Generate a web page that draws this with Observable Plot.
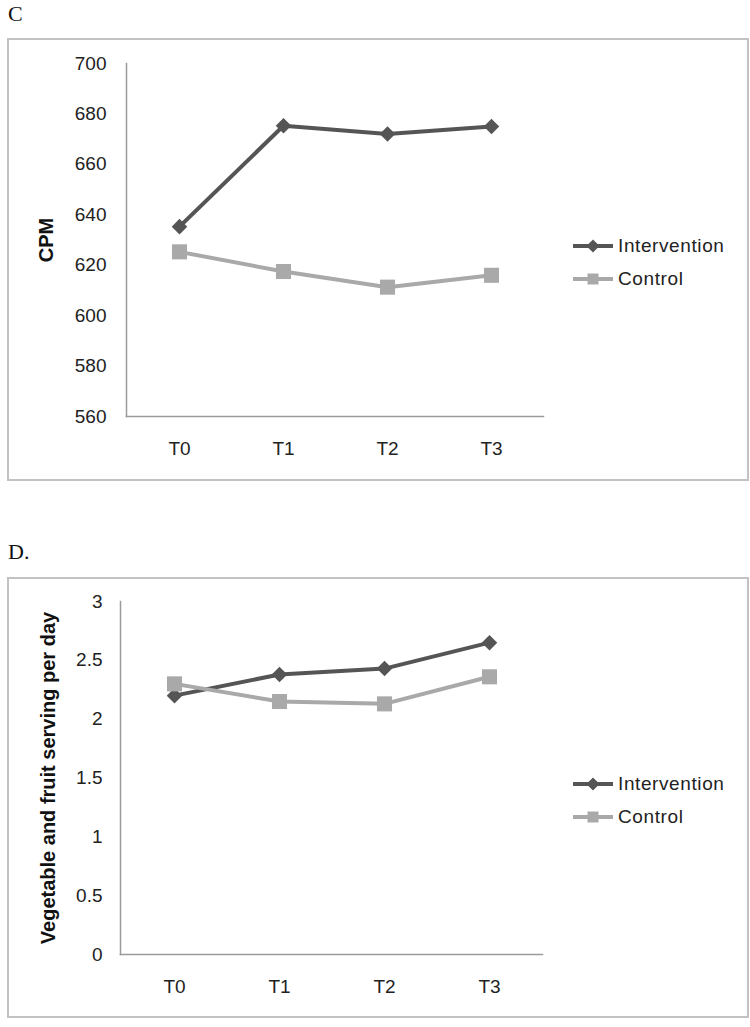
<!DOCTYPE html>
<html>
<head>
<meta charset="utf-8">
<script src="https://cdn.jsdelivr.net/npm/d3@7"></script>
<script src="https://cdn.jsdelivr.net/npm/@observablehq/plot@0.6"></script>
<style>
  html, body { margin: 0; padding: 0; background: #fff; }
  body { position: relative; width: 750px; height: 1027px; overflow: hidden; font-family: "Liberation Sans", Arial, sans-serif; }
  .plabel { position: absolute; left: 8px; font-family: "Liberation Serif", "Times New Roman", serif; font-size: 22px; color: #111; line-height: 1; }
  .box { position: absolute; left: 7px; width: 742px; border: 2px solid #c2c2c2; box-sizing: border-box; pointer-events: none; }
  .chart { position: absolute; left: 0; }
  .legend { position: absolute; left: 572px; }
  .legend .row { display: flex; align-items: center; height: 33px; }
  .legend .row span { font-size: 19px; color: #222; letter-spacing: 0.6px; }
</style>
</head>
<body>
<div id="root"></div>
<script>
// ---- data ----
const categories = ["T0", "T1", "T2", "T3"];
const seriesNames = ["Intervention", "Control"];
const seriesColors = ["#555555", "#a9a9a9"];
const seriesSymbols = ["diamond2", "square"];

const cpmIntervention = [635.3, 675.3, 672, 675];
const cpmControl = [625.3, 617.5, 611.3, 616];
const cpmTicks = [560, 580, 600, 620, 640, 660, 680, 700];

const vegIntervention = [2.2, 2.38, 2.43, 2.65];
const vegControl = [2.3, 2.15, 2.13, 2.36];
const vegTicks = [0, 0.5, 1, 1.5, 2, 2.5, 3];

const panelLabels = ["C", "D."];
const yTitles = ["CPM", "Vegetable and fruit serving per day"];

// ---- helpers ----
function toRows(seriesValues) {
  const rows = [];
  seriesValues.forEach((vals, si) => {
    vals.forEach((v, i) => rows.push({series: seriesNames[si], cat: categories[i], value: v}));
  });
  return rows;
}

function makeChart(cfg) {
  const rows = toRows(cfg.series);
  const markerR = [7, 8.5];
  return Plot.plot({
    width: 750,
    height: cfg.height,
    marginLeft: cfg.ml,
    marginRight: cfg.mr,
    marginTop: cfg.mt,
    marginBottom: cfg.mb,
    style: {fontFamily: "Liberation Sans, Arial, sans-serif", fontSize: "19px", color: "#222", background: "transparent", overflow: "visible"},
    x: {type: "point", domain: categories, padding: 0.5},
    y: {domain: [cfg.ticks[0], cfg.ticks[cfg.ticks.length - 1]]},
    color: {domain: seriesNames, range: seriesColors},
    symbol: {domain: seriesNames, range: seriesSymbols},
    marks: [
      Plot.frame({anchor: "left", stroke: "#9a9a9a", strokeWidth: 1.5}),
      Plot.frame({anchor: "bottom", stroke: "#9a9a9a", strokeWidth: 1.5}),
      Plot.axisY({ticks: cfg.ticks, tickSize: 0, tickPadding: cfg.tp, label: null, tickFormat: d => String(d)}),
      Plot.axisX({tickSize: 0, tickPadding: 25, label: null}),
      Plot.text([cfg.title], {frameAnchor: "left", text: d => d, rotate: -90, textAnchor: "middle", lineAnchor: "middle", dx: cfg.titleDx, fontWeight: "bold", fontSize: 20, fill: "#111"}),
      Plot.line(rows, {x: "cat", y: "value", z: "series", stroke: "series", strokeWidth: 4}),
      ...seriesNames.map((name, si) =>
        Plot.dot(rows.filter(d => d.series === name), {x: "cat", y: "value", fill: "series", symbol: "series", r: markerR[si], stroke: "none"})
      )
    ]
  });
}

function makeLegend(top) {
  const lg = document.createElement("div");
  lg.className = "legend";
  lg.style.top = top + "px";
  seriesNames.forEach((name, i) => {
    const row = document.createElement("div");
    row.className = "row";
    const svg = d3.create("svg").attr("width", 46).attr("height", 20);
    svg.append("line").attr("x1", 1).attr("x2", 41).attr("y1", 10).attr("y2", 10)
      .attr("stroke", seriesColors[i]).attr("stroke-width", 4);
    const sym = i === 0 ? d3.symbol(d3.symbolDiamond2, 110) : d3.symbol(d3.symbolSquare, 120);
    svg.append("path").attr("d", sym()).attr("transform", "translate(21,10)").attr("fill", seriesColors[i]);
    row.appendChild(svg.node());
    const sp = document.createElement("span");
    sp.textContent = name;
    row.appendChild(sp);
    lg.appendChild(row);
  });
  return lg;
}

const root = document.getElementById("root");

const panels = [
  {label: panelLabels[0], labelTop: 3, boxTop: 38, boxH: 443, top: 38, height: 443, ml: 126, mr: 207, mt: 25, mb: 65, tp: 20,
   ticks: cpmTicks, series: [cpmIntervention, cpmControl], title: yTitles[0], titleDx: -80, legendTop: 229.5},
  {label: panelLabels[1], labelTop: 541, boxTop: 577, boxH: 441, top: 577, height: 441, ml: 120, mr: 208, mt: 24, mb: 64, tp: 18,
   ticks: vegTicks, series: [vegIntervention, vegControl], title: yTitles[1], titleDx: -72, legendTop: 767}
];

panels.forEach(p => {
  const lab = document.createElement("div");
  lab.className = "plabel";
  lab.style.top = p.labelTop + "px";
  lab.textContent = p.label;
  root.appendChild(lab);

  const wrap = document.createElement("div");
  wrap.className = "chart";
  wrap.style.top = p.top + "px";
  wrap.appendChild(makeChart(p));
  root.appendChild(wrap);

  const box = document.createElement("div");
  box.className = "box";
  box.style.top = p.boxTop + "px";
  box.style.height = p.boxH + "px";
  root.appendChild(box);

  root.appendChild(makeLegend(p.legendTop));
});
</script>
</body>
</html>
